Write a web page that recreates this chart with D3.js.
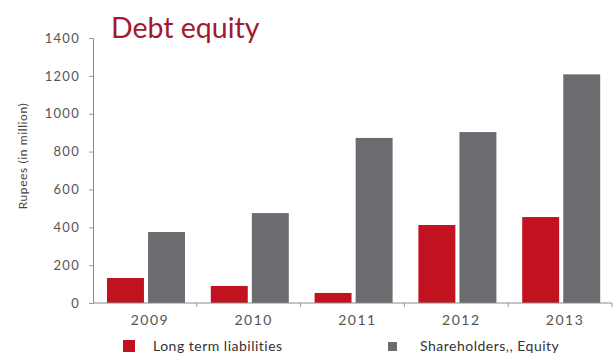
<!DOCTYPE html>
<html>
<head>
<meta charset="utf-8">
<script src="https://cdn.jsdelivr.net/npm/d3@7"></script>
<style>
  html, body { margin: 0; padding: 0; background: #fff; }
  svg { display: block; }
  text { font-family: "Lato", "Noto Sans", sans-serif; }
</style>
</head>
<body>
<svg id="chart" width="616" height="355"></svg>
<script>
// Debt vs. equity, Rupees in million
const years = ["2009", "2010", "2011", "2012", "2013"];
const longTermLiabilities = [132, 90, 53, 412, 454];
const shareholdersEquity = [375, 475, 872, 903, 1208];
const yTicks = [0, 200, 400, 600, 800, 1000, 1200, 1400];
const seriesNames = ["Long term liabilities", "Shareholders,, Equity"];
const seriesColors = ["#c2121f", "#6b6b70"];

const svg = d3.select("#chart");
const plotLeft = 93, plotRight = 612, plotTop = 38, plotBottom = 303;

const x = d3.scaleBand().domain(years).range([plotLeft, plotRight]).padding(0);
const x1 = d3.scaleBand().domain([0, 1]).range([14, 92]).paddingInner(0.1);
const y = d3.scaleLinear().domain([0, 1400]).range([plotBottom, plotTop]);

const rows = years.map((yr, i) => ({ yr, vals: [longTermLiabilities[i], shareholdersEquity[i]] }));

// bars
const groups = svg.append("g").selectAll("g").data(rows).join("g")
  .attr("transform", d => `translate(${x(d.yr)},0)`);
groups.selectAll("rect").data(d => d.vals.map((v, k) => ({ v, k }))).join("rect")
  .attr("x", d => x1(d.k))
  .attr("width", x1.bandwidth())
  .attr("y", d => y(d.v))
  .attr("height", d => y(0) - y(d.v))
  .attr("fill", d => seriesColors[d.k]);

// y axis
const yAxis = svg.append("g").attr("transform", `translate(${plotLeft},0)`)
  .call(d3.axisLeft(y).tickValues(yTicks).tickFormat(d3.format("d"))
    .tickSize(4).tickSizeOuter(0).tickPadding(9));
yAxis.select(".domain").attr("stroke", "#8a8a8a");
yAxis.selectAll(".tick line").attr("stroke", "#9a9a9a");
yAxis.selectAll("text").attr("fill", "#555").attr("font-size", 13)
  .attr("letter-spacing", 1.3);

// x axis: ticks at band boundaries
svg.append("line")
  .attr("x1", plotLeft).attr("x2", plotRight).attr("y1", plotBottom).attr("y2", plotBottom)
  .attr("stroke", "#8a8a8a");
const bounds = years.map(d => x(d)).concat([x(years[years.length - 1]) + x.bandwidth()]);
svg.append("g").selectAll("line").data(bounds.slice(1)).join("line")
  .attr("x1", d => d).attr("x2", d => d)
  .attr("y1", plotBottom).attr("y2", plotBottom + 4)
  .attr("stroke", "#9a9a9a");
svg.append("g").selectAll("text").data(years).join("text")
  .attr("x", d => x(d) + x.bandwidth() / 2 + 5)
  .attr("y", plotBottom + 22)
  .attr("text-anchor", "middle")
  .attr("fill", "#555")
  .attr("font-size", 14)
  .attr("letter-spacing", 1.5)
  .text(d => d);

// y axis title
svg.append("text")
  .attr("transform", "translate(27,156) rotate(-90)")
  .attr("text-anchor", "middle")
  .attr("fill", "#444")
  .attr("font-size", 12)
  .attr("letter-spacing", 0.6)
  .text("Rupees (in million)");

// chart title
svg.append("text")
  .attr("x", 111).attr("y", 38)
  .attr("fill", "#a3182e")
  .attr("font-size", 28.5)
  .attr("font-weight", 400)
  .text("Debt equity");

// legend
const legend = [
  { name: seriesNames[0], color: seriesColors[0], sx: 123, sy: 340, s: 12, tx: 153 },
  { name: seriesNames[1], color: seriesColors[1], sx: 388, sy: 342, s: 9, tx: 420 }
];
const lg = svg.append("g").selectAll("g").data(legend).join("g");
lg.append("rect")
  .attr("x", d => d.sx).attr("y", d => d.sy)
  .attr("width", d => d.s).attr("height", d => d.s)
  .attr("fill", d => d.color);
lg.append("text")
  .attr("x", d => d.tx).attr("y", 351)
  .attr("fill", "#333")
  .attr("font-size", 14)
  .attr("letter-spacing", 0.5)
  .text(d => d.name);
</script>
</body>
</html>
